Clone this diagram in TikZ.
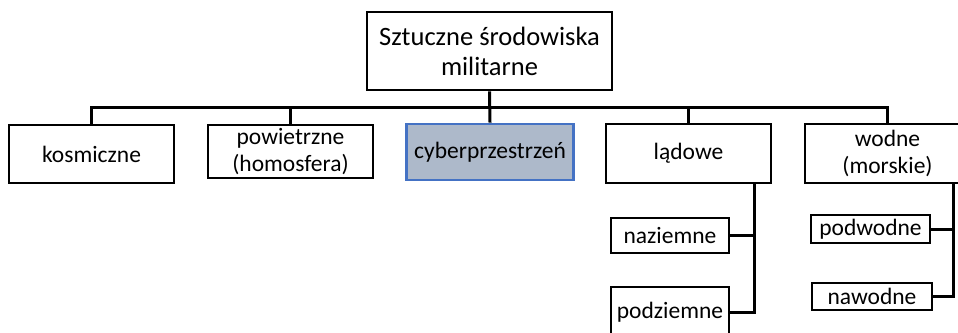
\documentclass[tikz,border=0pt]{standalone}
\usepackage{fontspec}
\setmainfont{Carlito}
\definecolor{cyberfill}{HTML}{ADB9CA}
\definecolor{cyberline}{HTML}{4472C4}

\tikzset{
  box/.style={draw, line width=2.8pt, inner sep=0pt, align=center,
    font=\fontsize{23.5}{27}\selectfont},
  link/.style={line width=3pt}
}

\begin{document}
\begin{tikzpicture}[x=1pt, y=-1pt]
  \useasboundingbox (0,0) rectangle (958,332);
  \clip (0,0) rectangle (958,332);

  \node[box, font=\fontsize{26.5}{30}\selectfont, minimum width=245pt, minimum height=78pt] (top) at (489.5,51) {Sztuczne środowiska\\militarne};

  \node[box, minimum width=165pt, minimum height=58pt] (kos) at (91.5,154) {kosmiczne};
  \node[box, minimum width=165pt, minimum height=53pt] (pow) at (290.5,151.5) {powietrzne\\(homosfera)};
  \node[box, draw=cyberline, fill=cyberfill, minimum width=167pt, minimum height=56pt] (cyb) at (490,152) {cyberprzestrzeń};
  \node[box, minimum width=165pt, minimum height=59pt] (lad) at (688.5,153.5) {lądowe};
  \node[box, minimum width=165pt, minimum height=59pt] (wod) at (887.5,153.5) {wodne\\(morskie)};

  \node[box, minimum width=118pt, minimum height=35pt] (naz) at (670,235.5) {naziemne};
  \node[box, minimum width=118pt, minimum height=50pt] (pdz) at (670,312) {podziemne};
  \node[box, minimum width=119pt, minimum height=28pt] (pdw) at (870.5,229) {podwodne};
  \node[box, minimum width=120pt, minimum height=27pt] (naw) at (872,296.5) {nawodne};

  % main bus
  \coordinate (bus) at (0,107);
  \draw[link] (top.south) -- (cyb.north);
  \draw[link] (kos.north) -- (kos.north |- bus) -- (wod.north |- bus) -- (wod.north);
  \draw[link] (pow.north) -- (pow.north |- bus);
  \draw[link] (lad.north) -- (lad.north |- bus);

  % sub branches
  \coordinate (ladv) at (754,183);
  \coordinate (wodv) at (953,183);
  \draw[link] (ladv) -- (ladv |- pdz.east) -- (pdz.east);
  \draw[link] (naz.east) -- (naz.east -| ladv);
  \draw[link] (wodv) -- (wodv |- naw.east) -- (naw.east);
  \draw[link] (pdw.east) -- (pdw.east -| wodv);
\end{tikzpicture}
\end{document}
